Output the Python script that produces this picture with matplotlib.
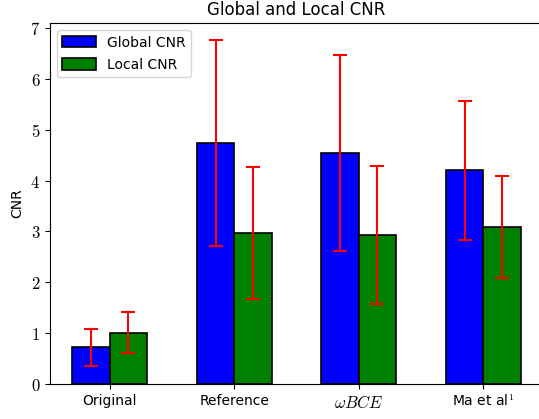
import matplotlib
matplotlib.use("Agg")
import matplotlib.pyplot as plt
import numpy as np

plt.rcParams['mathtext.fontset'] = 'cm'
plt.rcParams['font.family'] = ['DejaVu Sans']

methods = ['Original', 'Reference', r'$\omega BCE$', r'Ma et al$^1$']
global_cnr = [0.72, 4.74, 4.54, 4.20]
global_std = [0.36, 2.02, 1.93, 1.37]
local_cnr = [1.01, 2.97, 2.93, 3.08]
local_std = [0.40, 1.29, 1.35, 1.00]


def main():
    fig = plt.figure(figsize=(5.39, 4.19), dpi=100)
    # right spine falls just outside the picture in the reference
    ax = fig.add_axes([50 / 539, 35 / 419, 493 / 539, 361 / 419])
    x = np.arange(len(methods))
    w = 0.3
    err_style = dict(ecolor='red', elinewidth=1.5, capsize=5, capthick=1.5)
    ax.bar(x - w / 2, global_cnr, w, yerr=global_std, color='blue',
           edgecolor='black', linewidth=1.2, label='Global CNR', error_kw=err_style)
    ax.bar(x + w / 2, local_cnr, w, yerr=local_std, color='green',
           edgecolor='black', linewidth=1.2, label='Local CNR', error_kw=err_style)
    ax.set_xticks(x)
    ax.set_xticklabels(methods)
    # the math label is set a bit larger
    ax.get_xticklabels()[2].set_fontsize(12)
    ax.set_yticks(range(8))
    ax.set_yticklabels(['$%d$' % v for v in range(8)], fontsize=12)
    ax.set_ylabel('CNR')
    ax.set_title('Global and Local CNR', fontsize=12)
    ax.legend(loc='upper left', handlelength=2.4, handleheight=0.9,
              labelspacing=0.6)
    fig.savefig('out.png', dpi=100)


if __name__ == "__main__":
    main()
